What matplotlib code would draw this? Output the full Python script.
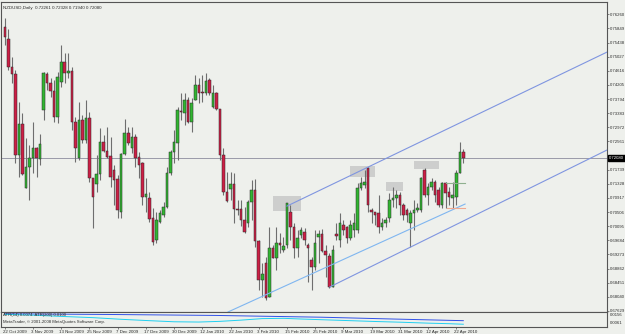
import matplotlib
matplotlib.use("Agg")
import matplotlib.pyplot as plt
from matplotlib.patches import Rectangle
from matplotlib.transforms import ScaledTranslation
import numpy as np

# ---------------- data (prices) ----------------
opens = [
    0.7589, 0.7554, 0.7473, 0.7452, 0.7217, 0.7307, 0.7121, 0.7182, 0.7208, 0.7237,
    0.7205, 0.7348, 0.7452, 0.7426, 0.7403, 0.7327, 0.7429, 0.7487, 0.7455, 0.7461,
    0.7313, 0.7208, 0.7319, 0.7260, 0.7324, 0.7150, 0.7132, 0.7161, 0.7255, 0.7228,
    0.7214, 0.7173, 0.7147, 0.7051, 0.7220, 0.7281, 0.7237, 0.7269, 0.7211, 0.7193,
    0.7095, 0.7092, 0.7033, 0.6969, 0.7022, 0.7042, 0.7065, 0.7164, 0.7225, 0.7252,
    0.7345, 0.7339, 0.7377, 0.7313, 0.7377, 0.7420, 0.7400, 0.7397, 0.7435, 0.7356,
    0.7397, 0.7351, 0.7217, 0.7109, 0.7118, 0.7132, 0.7060, 0.7060, 0.7028, 0.7019,
    0.7080, 0.7115, 0.6966, 0.6853, 0.6902, 0.6804, 0.6946, 0.6917, 0.6961, 0.6940,
    0.6955, 0.7051, 0.7007, 0.6946, 0.6984, 0.6993, 0.6955, 0.6911, 0.6891, 0.6978,
    0.6987, 0.6937, 0.6923, 0.6833, 0.6987, 0.6969, 0.7013, 0.7007, 0.6975, 0.6999,
    0.6999, 0.7121, 0.7129, 0.7179, 0.7057, 0.7051, 0.7048, 0.7007, 0.7019, 0.7033,
    0.7086, 0.7092, 0.7100, 0.7071, 0.7057, 0.7019, 0.7048, 0.7057, 0.7057, 0.7173,
    0.7100, 0.7124, 0.7138, 0.7115, 0.7071, 0.7135, 0.7109, 0.7092, 0.7095, 0.7164,
    0.72261]
highs = [
    0.7615, 0.7583, 0.7502, 0.7464, 0.7371, 0.7339, 0.7266, 0.7246, 0.7313, 0.7240,
    0.7278, 0.7458, 0.7458, 0.7441, 0.7435, 0.7458, 0.7537, 0.7514, 0.7514, 0.7473,
    0.7327, 0.7371, 0.7333, 0.7377, 0.7342, 0.7150, 0.7217, 0.7295, 0.7275, 0.7298,
    0.7269, 0.7188, 0.7159, 0.7223, 0.7322, 0.7298, 0.7298, 0.7278, 0.7225, 0.7196,
    0.7150, 0.7109, 0.7063, 0.7051, 0.7057, 0.7080, 0.7182, 0.7231, 0.7290, 0.7356,
    0.7397, 0.7397, 0.7386, 0.7383, 0.7450, 0.7441, 0.7450, 0.7455, 0.7441, 0.7420,
    0.7400, 0.7351, 0.7237, 0.7167, 0.7167, 0.7164, 0.7086, 0.7086, 0.7065, 0.7086,
    0.7144, 0.7147, 0.6969, 0.6902, 0.6920, 0.7007, 0.6955, 0.7007, 0.6990, 0.6978,
    0.7077, 0.7071, 0.7019, 0.6999, 0.7007, 0.7004, 0.6961, 0.6920, 0.6999, 0.6999,
    0.7001, 0.6955, 0.6932, 0.6955, 0.7019, 0.7048, 0.7028, 0.7010, 0.7028, 0.7048,
    0.7135, 0.7153, 0.7173, 0.7182, 0.7063, 0.7051, 0.7100, 0.7033, 0.7036, 0.7106,
    0.7124, 0.7115, 0.7109, 0.7077, 0.7063, 0.7057, 0.7086, 0.7077, 0.7153, 0.7179,
    0.7135, 0.7150, 0.7144, 0.7124, 0.7138, 0.7138, 0.7124, 0.7138, 0.7173, 0.7255,
    0.72328]
lows = [
    0.7537, 0.7464, 0.7426, 0.7193, 0.7153, 0.7159, 0.7121, 0.7086, 0.7164, 0.7153,
    0.7188, 0.7319, 0.7406, 0.7386, 0.7313, 0.7310, 0.7415, 0.7426, 0.7441, 0.7290,
    0.7196, 0.7202, 0.7252, 0.7252, 0.7138, 0.7004, 0.7109, 0.7144, 0.7225, 0.7208,
    0.7124, 0.7071, 0.7033, 0.7033, 0.7217, 0.7246, 0.7223, 0.7182, 0.7150, 0.7071,
    0.7051, 0.7022, 0.6955, 0.6961, 0.7019, 0.7036, 0.7063, 0.7159, 0.7193, 0.7202,
    0.7319, 0.7304, 0.7310, 0.7284, 0.7377, 0.7368, 0.7371, 0.7391, 0.7391, 0.7354,
    0.7348, 0.7202, 0.7100, 0.7080, 0.7086, 0.7019, 0.7042, 0.7010, 0.6990, 0.7007,
    0.7028, 0.6949, 0.6824, 0.6804, 0.6795, 0.6804, 0.6917, 0.6882, 0.6932, 0.6935,
    0.6946, 0.6969, 0.6917, 0.6920, 0.6975, 0.6955, 0.6847, 0.6824, 0.6882, 0.6902,
    0.6935, 0.6862, 0.6830, 0.6833, 0.6969, 0.6949, 0.6984, 0.6961, 0.6969, 0.6978,
    0.6990, 0.7115, 0.7121, 0.7051, 0.7019, 0.7013, 0.6990, 0.6999, 0.7007, 0.7022,
    0.7065, 0.7063, 0.7042, 0.7028, 0.7022, 0.6949, 0.6999, 0.7051, 0.7051, 0.7095,
    0.7071, 0.7115, 0.7080, 0.7065, 0.7063, 0.7063, 0.7071, 0.7063, 0.7071, 0.7164,
    0.71940]
closes = [
    0.7560, 0.7473, 0.7452, 0.7217, 0.7307, 0.7161, 0.7182, 0.7208, 0.7237, 0.7208,
    0.7249, 0.7455, 0.7426, 0.7403, 0.7327, 0.7444, 0.7487, 0.7455, 0.7461, 0.7313,
    0.7237, 0.7319, 0.7260, 0.7324, 0.7150, 0.7095, 0.7161, 0.7255, 0.7228, 0.7211,
    0.7153, 0.7144, 0.7057, 0.7220, 0.7281, 0.7252, 0.7269, 0.7208, 0.7188, 0.7095,
    0.7103, 0.7031, 0.6964, 0.7028, 0.7048, 0.7065, 0.7164, 0.7225, 0.7255, 0.7348,
    0.7342, 0.7377, 0.7313, 0.7368, 0.7420, 0.7397, 0.7397, 0.7432, 0.7397, 0.7397,
    0.7351, 0.7217, 0.7109, 0.7083, 0.7132, 0.7060, 0.7057, 0.7028, 0.6993, 0.7080,
    0.7115, 0.6966, 0.6853, 0.6870, 0.6801, 0.6946, 0.6917, 0.6961, 0.6955, 0.6952,
    0.7077, 0.7007, 0.6946, 0.6975, 0.6999, 0.6969, 0.6946, 0.6891, 0.6961, 0.6987,
    0.6937, 0.6926, 0.6833, 0.6940, 0.6981, 0.7019, 0.6999, 0.6975, 0.7013, 0.7019,
    0.7121, 0.7135, 0.7138, 0.7071, 0.7051, 0.7042, 0.7007, 0.7019, 0.7028, 0.7086,
    0.7092, 0.7100, 0.7071, 0.7042, 0.7042, 0.7048, 0.7057, 0.7063, 0.7150, 0.7100,
    0.7124, 0.7138, 0.7100, 0.7071, 0.7135, 0.7106, 0.7095, 0.7100, 0.7164, 0.7225,
    0.72080]

date_labels = ["22 Oct 2009", "3 Nov 2009", "13 Nov 2009", "25 Nov 2009", "7 Dec 2009",
               "17 Dec 2009", "30 Dec 2009", "12 Jan 2010", "22 Jan 2010", "3 Feb 2010",
               "15 Feb 2010", "25 Feb 2010", "9 Mar 2010", "19 Mar 2010", "31 Mar 2010",
               "12 Apr 2010", "22 Apr 2010"]
label_every = 8

# price scale labels (MetaTrader style)
price_top = 0.76260
price_step = 0.00411
n_price_labels = 22
last_price = 0.72080
title_text = "NZDUSD,Daily  0.72261 0.72328 0.71940 0.72080"

# trend lines (bar index, price)
upper_line = ([80, 170.7], [0.7068, 0.7516])
lower_line = ([92.2, 170.7], [0.6833, 0.7231])
support_line = ([63.3, 130.5], [0.6760, 0.7074])
target_line = ([125, 130.5], [0.7136, 0.7136])
stop_line = ([125.5, 130.5], [0.7063, 0.7063])

# grey zones: (bar start, bar end, price low, price high)
zones = [(76, 84, 0.7055, 0.7096), (97.9, 105, 0.7154, 0.7185),
         (108, 113, 0.7112, 0.7137), (116, 123, 0.7175, 0.7199)]

# ATR indicator samples (bar index, value)
atr14_x = [0, 8, 16, 25, 33, 41, 48, 55, 61, 67, 73, 79, 84, 91, 98, 105, 112, 120, 126, 130]
atr14_v = [0.0146, 0.0140, 0.0131, 0.0122, 0.0110, 0.0100, 0.0092, 0.0090, 0.0095, 0.0104,
           0.0115, 0.0117, 0.0112, 0.0106, 0.0100, 0.0094, 0.0089, 0.0082, 0.0078, 0.0074]
atr200_x = [0, 30, 60, 90, 110, 130]
atr200_v = [0.0150, 0.0145, 0.0138, 0.0125, 0.0112, 0.0100]
atr_max_label = "0.0156"
atr_min_label = "0.0061"
atr_text = "ATR(14) 0.0074  ATR(200) 0.0100"

assert len(opens) == len(highs) == len(lows) == len(closes)

# ---------------- layout ----------------
FONT = "Liberation Sans"
W, H = 625, 334
BG = "#eef0ec"
TXT = "#2a2a2a"
fig = plt.figure(figsize=(W / 100, H / 100), dpi=100, facecolor=BG)

x0px, x1px = 1, 607
ytop, ymid, ybot = 2, 312, 327
ax = fig.add_axes([x0px / W, 1 - ymid / H, (x1px - x0px) / W, (ymid - ytop) / H])
axi = fig.add_axes([x0px / W, 1 - ybot / H, (x1px - x0px) / W, (ybot - ymid) / H])
for a in (ax, axi):
    a.set_facecolor(BG)
    for s in a.spines.values():
        s.set_color("#555555")
        s.set_linewidth(0.8)

bar_px = 3.527
first_px = 4.8
xmin = (x0px - first_px) / bar_px
xmax = (x1px - first_px) / bar_px
n = len(opens)
idx = np.arange(n)

ppx = 0.000291
ref_y = 158
ymax_p = last_price + (ref_y - ytop) * ppx
ymin_p = last_price - (ymid - ref_y) * ppx
ax.set_xlim(xmin, xmax)
ax.set_ylim(ymin_p, ymax_p)

# current price line
ax.axhline(last_price, color="#9a9aa8", lw=0.7, zorder=1)

# zones
for (a0, a1, lo, hi) in zones:
    ax.add_patch(Rectangle((a0, lo), a1 - a0, hi - lo, facecolor="#c8c8c8",
                           edgecolor="none", alpha=0.85, zorder=2))

# candles
o = np.array(opens); h = np.array(highs); l = np.array(lows); c = np.array(closes)
up = c >= o
ax.vlines(idx, l, h, color="#6e6e6e", lw=0.8, zorder=3)
body_lo = np.minimum(o, c)
body_h = np.maximum(np.abs(c - o), 0.00012)
ax.bar(idx[up], body_h[up], bottom=body_lo[up], width=0.72, color="#31b531",
       edgecolor="#2a2a2a", linewidth=0.35, zorder=4)
ax.bar(idx[~up], body_h[~up], bottom=body_lo[~up], width=0.72, color="#cc1f45",
       edgecolor="#2a2a2a", linewidth=0.35, zorder=4)

# trend lines
ax.plot(*upper_line, color="#7f95e0", lw=0.8, zorder=5)
ax.plot(*lower_line, color="#7f95e0", lw=0.8, zorder=5)
ax.plot(*support_line, color="#7fb6f0", lw=0.8, zorder=5)
ax.plot(*target_line, color="#8fb08f", lw=0.8, zorder=5)
ax.plot(*stop_line, color="#f0a890", lw=0.8, zorder=5)

# price labels on the right (the one under the current-price box is hidden)
labels_p = [price_top - k * price_step for k in range(n_price_labels)]
ax.yaxis.tick_right()
ax.set_yticks(labels_p)
ax.set_yticklabels(["" if abs(v - last_price) < price_step * 0.5 else f"{v:.5f}"
                    for v in labels_p], fontfamily=FONT)
ax.tick_params(axis="y", length=1.5, width=0.5, colors="#555555", labelsize=3.1,
               pad=0.6, labelcolor=TXT)
ax.set_xticks([])
ax.text(1.0035, last_price, f"{last_price:.5f}", transform=ax.get_yaxis_transform(),
        fontsize=3.1, fontfamily=FONT, color="white", va="center", ha="left", zorder=10,
        bbox=dict(boxstyle="square,pad=0.2", fc="black", ec="black"))

# title
ax.text(0.004, 0.988, title_text, transform=ax.transAxes, fontsize=3.2,
        fontfamily=FONT, color=TXT, va="top", ha="left")

# indicator
axi.set_xlim(xmin, xmax)
axi.set_ylim(0.0054, 0.0163)
axi.plot(atr200_x, atr200_v, color="#3050e8", lw=0.7)
axi.plot(atr14_x, atr14_v, color="#20d0f0", lw=0.7)
axi.set_yticks([])
axi.text(1.004, 0.8, atr_max_label, transform=axi.transAxes, fontsize=3.1,
         fontfamily=FONT, color=TXT, va="center", ha="left")
axi.text(1.004, 0.25, atr_min_label, transform=axi.transAxes, fontsize=3.1,
         fontfamily=FONT, color=TXT, va="center", ha="left")
axi.text(0.004, 0.92, atr_text, transform=axi.transAxes,
         fontsize=3.1, fontfamily=FONT, color=TXT, va="top", ha="left")
axi.text(0.004, 0.45, "MetaTrader, \u00a9 2001-2008 MetaQuotes Software Corp.",
         transform=axi.transAxes, fontsize=3.1, fontfamily=FONT, color=TXT,
         va="top", ha="left")

tick_idx = [k * label_every for k in range(len(date_labels))]
axi.set_xticks(tick_idx)
axi.set_xticklabels(date_labels, fontfamily=FONT)
axi.tick_params(axis="x", length=1.5, width=0.5, colors="#555555", labelsize=3.2,
                pad=0.8, labelcolor=TXT)
shift = ScaledTranslation(-2 / 100, 0, fig.dpi_scale_trans)
for t in axi.get_xticklabels():
    t.set_ha("left")
    t.set_transform(t.get_transform() + shift)

fig.savefig("out.png", dpi=100, facecolor=BG)
